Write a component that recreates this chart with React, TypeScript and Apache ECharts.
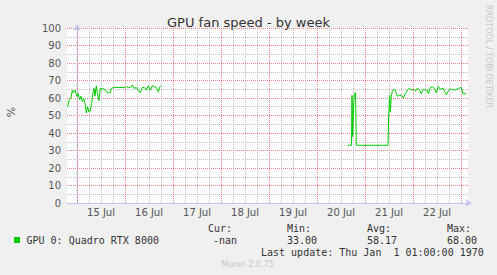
import React, { useEffect, useRef } from "react";
import * as echarts from "echarts";

// hours since 15 Jul 00:00
const fanHours: number[] = [
  -4.7, -3.85, -3, -2.35, -1.7, -1, 0, 0.65, 1.3, 2, 2.65, 3.3, 4, 4.65, 5.3, 6, 6.65, 7.3, 8, 8.5, 9,
  9.65, 10.3, 10.9, 11.65, 12.65, 13.65, 14.65, 15.65, 16.65, 17.15, 18.65, 20.65, 22.65, 23.65, 24.65,
  25.65, 26.65, 27.65, 28.65, 29.65, 30.65, 31.65, 32.65, 33.65, 34.65, 35.65, 36.65, 37.65, 38.65,
  39.65, 40.65, 41.65,
  60,
  135.3, 137.25, 137.5, 137.85, 138.4, 138.8, 139.3, 139.65, 155.5, 155.8, 156.3, 156.65, 157.15, 157.65,
  158.4, 159.15, 160.15, 161.15, 162.15, 163.15, 164.15, 165.15, 166.15, 167.15, 168.15, 169.15, 170.15,
  171.15, 172.15, 173.15, 174.15, 175.15, 175.65, 176.65, 177.65, 178.65, 179.65, 180.65, 181.65, 183.15,
  184.65, 186.15, 187.65, 189.15, 190.65, 192.15, 193.15, 194.65,
];
const fanValues: (number | null)[] = [
  55, 59, 60, 64.5, 63, 64.5, 61, 62.5, 59, 61, 58, 60, 57, 51.5, 55, 52, 52.5, 57, 63, 65.5, 61,
  67, 62, 58.5, 65.5, 65.5, 65, 63.5, 63, 63, 65.5, 66, 66, 66, 66, 66.5,
  66, 66, 67.5, 65.5, 66, 64.5, 63, 66, 66, 64.5, 67, 64.5, 67, 66.5,
  66, 63.5, 67,
  null,
  33, 33, 61.5, 38, 58, 62.5, 63, 33, 33, 48, 61.5, 52, 61, 64,
  65, 64.5, 61, 61.5, 61.5, 60, 62.5, 64.5, 65.5, 64.5, 65, 64, 65.5,
  65, 62.5, 65, 64.5, 64.5, 62.5, 66, 66.5, 65.5, 63, 66.5, 65, 65.5,
  62, 65, 65, 64.5, 65.5, 66, 62.3, 62.7,
];

const dayLabelHours: number[] = [12, 36, 60, 84, 108, 132, 156, 180];
const yTicks: number[] = [0, 10, 20, 30, 40, 50, 60, 70, 80, 90, 100];

const legendName = "GPU 0: Quadro RTX 8000";
const legendHeads = ["Cur:", "Min:", "Avg:", "Max:"];
const legendStats = ["-nan", "33.00", "58.17", "68.00"];
const lastUpdate = "Last update: Thu Jan  1 01:00:00 1970";

const X_MIN = -5;
const X_MAX = 195.5;
const MAJOR = "rgba(230,100,100,0.8)";
const MINOR = "rgba(170,170,170,0.75)";
const AXIS = "#c4c4f4";
const LINE = "#00cc00";
const SANS = "DejaVu Sans";
const MONO = "DejaVu Sans Mono";

export default function App() {
  const ref = useRef<HTMLDivElement>(null);
  useEffect(() => {
    if (!ref.current) return;
    const chart = echarts.init(ref.current, null, { renderer: "svg" });

    const vLines: any[] = [];
    for (let h = 6; h < X_MAX; h += 6) {
      vLines.push({
        xAxis: h,
        lineStyle: { color: h % 24 === 0 ? MAJOR : MINOR, type: [1, 1], width: 1 },
      });
    }
    vLines.push({ xAxis: 0, lineStyle: { color: MAJOR, type: [1, 1], width: 1 } });

    const data = fanHours.map((h, i) => [h, fanValues[i]]);

    const headX = [208, 287, 367, 447];
    const statX = [213, 287, 367, 447];

    chart.setOption({
      animation: false,
      backgroundColor: "#f0f0f0",
      title: {
        text: "GPU fan speed - by week",
        left: "center",
        top: 11,
        textStyle: { fontFamily: SANS, fontSize: 13, fontWeight: "normal", color: "#333" },
      },
      grid: {
        left: 67,
        right: 29,
        top: 28,
        bottom: 72,
        show: true,
        backgroundColor: "#ffffff",
        borderWidth: 0,
      },
      xAxis: {
        type: "value",
        min: X_MIN,
        max: X_MAX,
        splitLine: { show: false },
        axisTick: { show: false },
        axisLine: {
          show: true,
          lineStyle: { color: AXIS, width: 1 },
          symbol: ["none", "arrow"],
          symbolSize: [6, 7],
          symbolOffset: [0, 4],
        },
        axisLabel: {
          customValues: dayLabelHours,
          formatter: (v: number) => `${15 + Math.floor(v / 24)} Jul`,
          fontFamily: SANS,
          fontSize: 10,
          color: "#555",
          margin: 4,
        },
      },
      yAxis: {
        type: "value",
        min: 0,
        max: 100,
        interval: 10,
        axisLine: {
          show: true,
          lineStyle: { color: AXIS, width: 1 },
          symbol: ["none", "arrow"],
          symbolSize: [6, 7],
          symbolOffset: [0, 4],
        },
        axisTick: { show: false },
        axisLabel: {
          customValues: yTicks,
          fontFamily: SANS,
          fontSize: 10,
          color: "#555",
          margin: 6,
        },
        splitLine: { show: true, lineStyle: { color: MAJOR, type: [1, 1], width: 1 } },
        minorTick: { show: false, splitNumber: 2 },
        minorSplitLine: { show: true, lineStyle: { color: MINOR, type: [1, 1], width: 1 } },
      },
      series: [
        {
          type: "line",
          data: [],
          z: 1,
          silent: true,
          markLine: {
            silent: true,
            symbol: ["none", "none"],
            label: { show: false },
            data: vLines,
            z: 1,
          },
        },
        {
          type: "line",
          name: legendName,
          data,
          z: 5,
          showSymbol: false,
          symbol: "none",
          connectNulls: false,
          lineStyle: { color: LINE, width: 1 },
          itemStyle: { color: LINE },
        },
      ],
      graphic: [
        {
          type: "text",
          x: 11,
          y: 112,
          rotation: Math.PI / 2,
          style: { text: "%", fontFamily: SANS, fontSize: 11, fill: "#555", align: "center", verticalAlign: "middle" },
        },
        {
          type: "text",
          x: 488,
          y: 5,
          rotation: -Math.PI / 2,
          style: {
            text: "RRDTOOL / TOBI OETIKER",
            fontFamily: SANS,
            fontSize: 8,
            fill: "#c8c8c8",
            align: "left",
            verticalAlign: "middle",
          },
        },
        { type: "rect", shape: { x: 14, y: 237, width: 6, height: 6 }, style: { fill: LINE } },
        {
          type: "text",
          x: 26.5,
          y: 240,
          style: { text: legendName, fontFamily: MONO, fontSize: 10, fill: "#333", verticalAlign: "middle" },
        },
        ...legendHeads.map((t, i) => ({
          type: "text",
          x: headX[i],
          y: 228.5,
          style: { text: t, fontFamily: MONO, fontSize: 10, fill: "#333", verticalAlign: "middle" },
        })),
        ...legendStats.map((t, i) => ({
          type: "text",
          x: statX[i],
          y: 240,
          style: { text: t, fontFamily: MONO, fontSize: 10, fill: "#333", verticalAlign: "middle" },
        })),
        {
          type: "text",
          x: 261,
          y: 252,
          style: { text: lastUpdate, fontFamily: MONO, fontSize: 10, fill: "#333", verticalAlign: "middle" },
        },
        {
          type: "text",
          x: 247.5,
          y: 264.5,
          style: {
            text: "Munin 2.0.75",
            fontFamily: SANS,
            fontSize: 8,
            fill: "#c8c8c8",
            align: "center",
            verticalAlign: "middle",
          },
        },
      ],
    });
    return () => chart.dispose();
  }, []);
  return (
    <div
      ref={ref}
      style={{ position: "fixed", left: 0, top: 0, width: 497, height: 275 }}
    />
  );
}
